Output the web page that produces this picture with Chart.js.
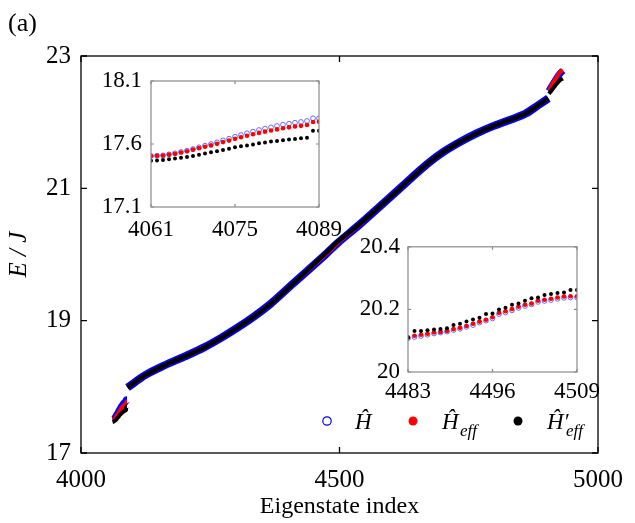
<!DOCTYPE html>
<html>
<head>
<meta charset="utf-8">
<script src="https://cdn.jsdelivr.net/npm/chart.js@4.4.0/dist/chart.umd.min.js"></script>
<style>
  body { margin: 0; background: #fff; }
  #wrap { position: relative; width: 635px; height: 523px; }
  canvas { position: absolute; }
</style>
</head>
<body>
<div id="wrap">
  <canvas id="mainChart" width="635" height="523" style="left:0;top:0"></canvas>
  <canvas id="inset1" width="260" height="200" style="left:95px;top:55px"></canvas>
  <canvas id="inset2" width="260" height="190" style="left:355px;top:225px"></canvas>
</div>
<script>
// series names (legend)
var seriesNames = ["Ĥ", "Ĥ", "Ĥ′"];

// main axis ticks
var mainXTicks = [4000, 4500, 5000];
var mainYTicks = [17, 19, 21, 23];

// lower edge states 4061..4089 (also shown in left inset)
var lowIdx = [4061, 4062, 4063, 4064, 4065, 4066, 4067, 4068, 4069, 4070, 4071, 4072, 4073, 4074, 4075,
  4076, 4077, 4078, 4079, 4080, 4081, 4082, 4083, 4084, 4085, 4086, 4087, 4088, 4089];
var lowH = [17.505, 17.507, 17.510, 17.518, 17.526, 17.537, 17.547, 17.560, 17.574, 17.587, 17.600, 17.613,
  17.629, 17.642, 17.658, 17.671, 17.685, 17.698, 17.711, 17.722, 17.732, 17.743, 17.753, 17.761, 17.769,
  17.775, 17.783, 17.804, 17.804];
var lowHeff = [17.505, 17.507, 17.509, 17.516, 17.523, 17.533, 17.543, 17.555, 17.567, 17.578, 17.589, 17.601,
  17.615, 17.627, 17.641, 17.653, 17.665, 17.677, 17.688, 17.698, 17.707, 17.716, 17.725, 17.732, 17.739,
  17.744, 17.751, 17.775, 17.776];
var lowHp = [17.468, 17.470, 17.474, 17.479, 17.484, 17.490, 17.497, 17.505, 17.515, 17.524, 17.534, 17.543,
  17.552, 17.563, 17.574, 17.582, 17.589, 17.597, 17.605, 17.612, 17.619, 17.624, 17.629, 17.635, 17.640,
  17.645, 17.650, 17.706, 17.706];

// bulk of the spectrum (read along the band)
var midIdx = [4090, 4125, 4163, 4201, 4239, 4271, 4302, 4334, 4366, 4410, 4473, 4496, 4537, 4600, 4638,
  4670, 4701, 4733, 4765, 4797, 4828, 4860, 4885, 4904];
var midH = [17.99, 18.18, 18.33, 18.46, 18.60, 18.74, 18.89, 19.06, 19.25, 19.56, 20.00, 20.17, 20.44, 20.88,
  21.15, 21.37, 21.55, 21.70, 21.83, 21.94, 22.03, 22.13, 22.26, 22.36];
var midHeff = [17.99, 18.18, 18.33, 18.46, 18.60, 18.74, 18.89, 19.06, 19.25, 19.56, 20.00, 20.17, 20.44, 20.88,
  21.15, 21.37, 21.55, 21.70, 21.83, 21.94, 22.03, 22.13, 22.26, 22.36];
var midHp = [17.99, 18.18, 18.33, 18.46, 18.60, 18.74, 18.89, 19.06, 19.25, 19.56, 20.02, 20.19, 20.45, 20.88,
  21.15, 21.37, 21.55, 21.70, 21.83, 21.94, 22.03, 22.13, 22.26, 22.36];

// upper edge states
var highIdx = [4905, 4912, 4919, 4926, 4932];
var highH = [22.47, 22.56, 22.65, 22.73, 22.78];
var highHeff = [22.48, 22.58, 22.67, 22.75, 22.79];
var highHp = [22.43, 22.50, 22.57, 22.63, 22.66];

// right inset: states 4483..4509
var inIdx = [4483, 4484, 4485, 4486, 4487, 4488, 4489, 4490, 4491, 4492, 4493, 4494, 4495, 4496,
  4497, 4498, 4499, 4500, 4501, 4502, 4503, 4504, 4505, 4506, 4507, 4508, 4509];
var inH = [20.108, 20.112, 20.115, 20.119, 20.123, 20.126, 20.129, 20.134, 20.138, 20.144, 20.150, 20.158,
  20.164, 20.171, 20.185, 20.190, 20.197, 20.205, 20.211, 20.216, 20.224, 20.227, 20.230, 20.234, 20.237,
  20.238, 20.238];
var inHeff = [20.110, 20.116, 20.119, 20.122, 20.126, 20.128, 20.131, 20.137, 20.141, 20.147, 20.154, 20.161,
  20.167, 20.175, 20.189, 20.194, 20.201, 20.209, 20.215, 20.219, 20.228, 20.231, 20.234, 20.238, 20.241,
  20.242, 20.242];
var inHp = [20.110, 20.131, 20.131, 20.133, 20.136, 20.137, 20.140, 20.150, 20.154, 20.161, 20.168, 20.173,
  20.185, 20.187, 20.200, 20.205, 20.215, 20.219, 20.228, 20.236, 20.238, 20.246, 20.249, 20.252, 20.254,
  20.262, 20.262];

var inset1XTicks = [4061, 4075, 4089];
var inset1YTicks = [17.1, 17.6, 18.1];
var inset2XTicks = [4483, 4496, 4509];
var inset2YTicks = [20, 20.2, 20.4];

var BLUE = "#0000ff", RED = "#ff0000", BLACK = "#000000";
var SERIF = "'Liberation Serif', 'Times New Roman', serif";

Chart.defaults.font.family = SERIF;
Chart.defaults.font.size = 23;
Chart.defaults.color = "#000";

function pts(xs, ys) {
  return xs.map(function (x, i) { return { x: x, y: ys[i] }; });
}

function band(xs, ys, color, width, order) {
  return {
    data: pts(xs, ys), showLine: true, borderColor: color, borderWidth: width,
    pointRadius: 0, cubicInterpolationMode: "monotone", order: order
  };
}

function fixedTicks(list) {
  return function (scale) {
    scale.ticks = list.map(function (v) { return { value: v }; });
  };
}

// box with inward ticks on all four sides
var framePlugin = {
  id: "frame",
  afterDraw: function (chart, args, opts) {
    var ctx = chart.ctx, a = chart.chartArea;
    var xs = chart.scales.x, ys = chart.scales.y;
    var t = opts.tick;
    ctx.save();
    ctx.strokeStyle = opts.color;
    ctx.lineWidth = opts.width;
    ctx.strokeRect(a.left, a.top, a.right - a.left, a.bottom - a.top);
    ctx.beginPath();
    xs.ticks.forEach(function (tk) {
      var px = xs.getPixelForValue(tk.value);
      ctx.moveTo(px, a.bottom); ctx.lineTo(px, a.bottom - t);
      ctx.moveTo(px, a.top); ctx.lineTo(px, a.top + t);
    });
    ys.ticks.forEach(function (tk) {
      var py = ys.getPixelForValue(tk.value);
      ctx.moveTo(a.left, py); ctx.lineTo(a.left + t, py);
      ctx.moveTo(a.right, py); ctx.lineTo(a.right - t, py);
    });
    ctx.stroke();
    ctx.restore();
  }
};

var legendPlugin = {
  id: "mathLegend",
  afterDraw: function (chart) {
    var ctx = chart.ctx;
    ctx.save();
    ctx.lineWidth = 1.2;
    ctx.strokeStyle = BLUE;
    ctx.beginPath(); ctx.arc(327, 421, 4.2, 0, Math.PI * 2); ctx.stroke();
    ctx.fillStyle = RED;
    ctx.beginPath(); ctx.arc(413, 421, 4.5, 0, Math.PI * 2); ctx.fill();
    ctx.fillStyle = BLACK;
    ctx.beginPath(); ctx.arc(518, 421, 4.5, 0, Math.PI * 2); ctx.fill();

    ctx.textBaseline = "alphabetic";
    ctx.font = "italic 23px " + SERIF;
    ctx.fillText(seriesNames[0], 355, 429);
    ctx.fillText(seriesNames[1], 442, 429);
    ctx.fillText(seriesNames[2], 547, 429);
    ctx.font = "italic 17px " + SERIF;
    ctx.fillText("eff", 460, 436);
    ctx.fillText("eff", 566, 436);
    ctx.font = "26px " + SERIF;
    ctx.fillText("(a)", 8, 31);
    ctx.restore();
  }
};

var mainCtx = document.getElementById("mainChart").getContext("2d");
var mainChart = new Chart(mainCtx, {
  type: "scatter",
  data: {
    datasets: [
      band(lowIdx, lowHp, BLACK, 4, 1),
      band(midIdx, midHp, BLACK, 4.5, 1),
      band(highIdx, highHp, BLACK, 4, 1),
      band(lowIdx, lowHeff, RED, 4, 2),
      band(midIdx, midHeff, RED, 4, 2),
      band(highIdx, highHeff, RED, 4, 2),
      band(lowIdx, lowH, BLUE, 7, 3),
      band(midIdx, midH, BLUE, 8, 3),
      band(highIdx, highH, BLUE, 7, 3)
    ]
  },
  options: {
    responsive: false,
    animation: false,
    layout: { padding: { top: 56, right: 28, left: 0, bottom: 0 } },
    plugins: {
      legend: { display: false },
      tooltip: { enabled: false },
      frame: { color: "#000", width: 1.3, tick: 6 }
    },
    scales: {
      x: {
        type: "linear", min: 4000, max: 5000,
        afterBuildTicks: fixedTicks(mainXTicks),
        afterFit: function (s) { s.height = 70; },
        grid: { display: false, drawTicks: false },
        border: { display: false },
        ticks: { padding: 12, maxRotation: 0, font: { size: 25 }, callback: function (v) { return String(v); } },
        title: { display: true, text: "Eigenstate index", font: { size: 24 }, padding: { top: 0, bottom: 2 } }
      },
      y: {
        min: 17, max: 23,
        afterBuildTicks: fixedTicks(mainYTicks),
        afterFit: function (s) { s.width = 81; },
        grid: { display: false, drawTicks: false },
        border: { display: false },
        ticks: { padding: 10, font: { size: 25 }, callback: function (v) { return String(v); } },
        title: { display: true, text: "E / J", font: { size: 25, style: "italic" }, padding: { top: 4, bottom: 0 } }
      }
    }
  },
  plugins: [framePlugin, legendPlugin]
});

function insetDatasets(xs, h, heff, hp) {
  return [
    { data: pts(xs, hp), pointRadius: 2, pointBackgroundColor: BLACK, pointBorderWidth: 0, order: 1 },
    { data: pts(xs, heff), pointRadius: 2.3, pointBackgroundColor: RED, pointBorderWidth: 0, order: 2 },
    { data: pts(xs, h), pointRadius: 2.4, pointBackgroundColor: "rgba(0,0,0,0)",
      pointBorderColor: "#4848ff", pointBorderWidth: 0.8, order: 3 }
  ];
}

function insetOptions(xMin, xMax, xTicks, yMin, yMax, yTicks, pad, yWidth, xHeight, xPad, yPad) {
  return {
    responsive: false,
    animation: false,
    layout: { padding: { top: pad.top, right: pad.right, left: 0, bottom: 0 } },
    plugins: {
      legend: { display: false },
      tooltip: { enabled: false },
      frame: { color: "#8a8a8a", width: 1.2, tick: 3 }
    },
    scales: {
      x: {
        type: "linear", min: xMin, max: xMax,
        afterBuildTicks: fixedTicks(xTicks),
        afterFit: function (s) { s.height = xHeight; },
        grid: { display: false, drawTicks: false },
        border: { display: false },
        ticks: { padding: xPad, maxRotation: 0, callback: function (v) { return String(v); } }
      },
      y: {
        min: yMin, max: yMax,
        afterBuildTicks: fixedTicks(yTicks),
        afterFit: function (s) { s.width = yWidth; },
        grid: { display: false, drawTicks: false },
        border: { display: false },
        ticks: { padding: yPad, callback: function (v) { return String(v); } }
      }
    }
  };
}

var ctxIn1 = document.getElementById("inset1").getContext("2d");
var inset1 = new Chart(ctxIn1, {
  type: "scatter",
  data: { datasets: insetDatasets(lowIdx, lowH, lowHeff, lowHp) },
  options: insetOptions(4061, 4089, inset1XTicks, 17.1, 18.1, inset1YTicks,
    { top: 26, right: 36 }, 56, 48, 9, 9),
  plugins: [framePlugin]
});

var ctxIn2 = document.getElementById("inset2").getContext("2d");
var inset2 = new Chart(ctxIn2, {
  type: "scatter",
  data: { datasets: insetDatasets(inIdx, inH, inHeff, inHp) },
  options: insetOptions(4483, 4509, inset2XTicks, 20, 20.4, inset2YTicks,
    { top: 21, right: 38 }, 53, 43, 6, 8),
  plugins: [framePlugin]
});
</script>
</body>
</html>
